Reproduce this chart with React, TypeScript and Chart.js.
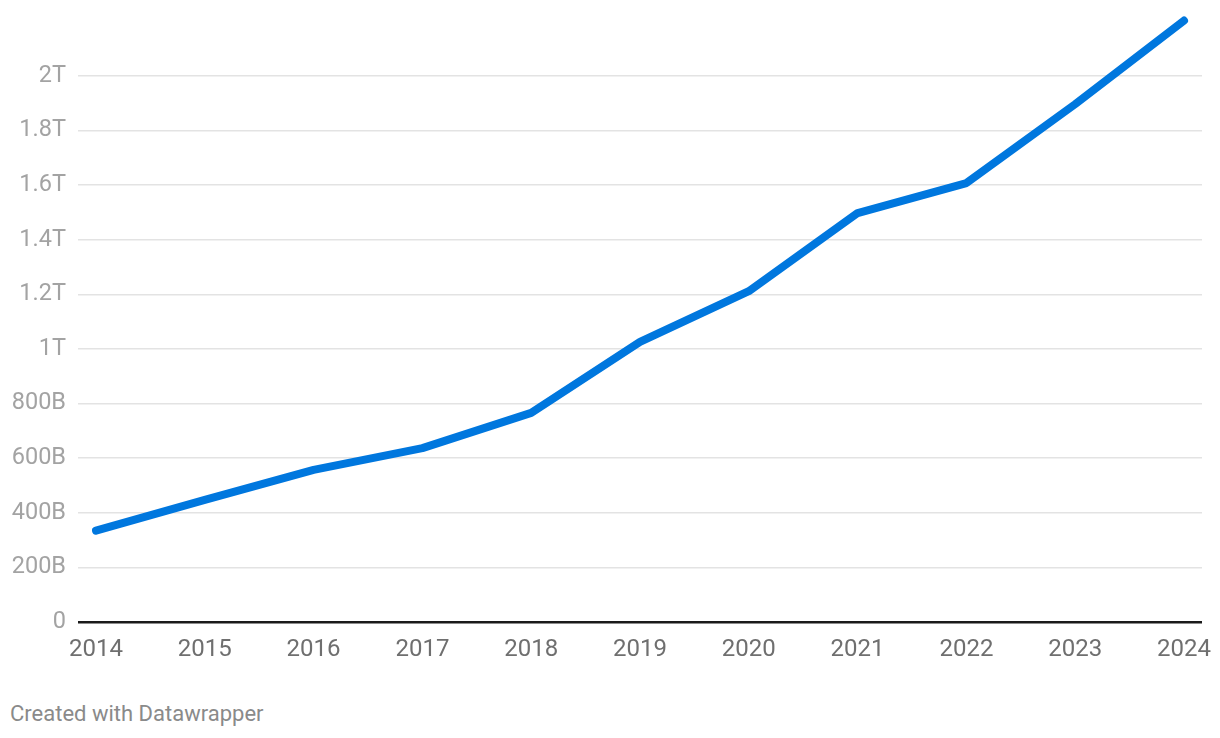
import React, { useEffect, useRef } from "react";
import { Chart, registerables } from "chart.js";

Chart.register(...registerables);

const years: number[] = [2014, 2015, 2016, 2017, 2018, 2019, 2020, 2021, 2022, 2023, 2024];
const valuesBillions: number[] = [335, 447, 557, 637, 766, 1026, 1212, 1498, 1608, 1897, 2203];
const yTickValuesBillions: number[] = [0, 200, 400, 600, 800, 1000, 1200, 1400, 1600, 1800, 2000];
const yTickLabels: string[] = ["0", "200B", "400B", "600B", "800B", "1T", "1.2T", "1.4T", "1.6T", "1.8T", "2T"];
const caption = "Created with Datawrapper";

export default function App() {
  const canvasRef = useRef<HTMLCanvasElement | null>(null);

  useEffect(() => {
    document.body.style.margin = "0";
    const ctx = canvasRef.current;
    if (!ctx) return;
    const chart = new Chart(ctx, {
      type: "line",
      data: {
        datasets: [
          {
            data: years.map((y, i) => ({ x: y, y: valuesBillions[i] })),
            borderColor: "#0077de",
            borderWidth: 8,
            borderCapStyle: "round",
            borderJoinStyle: "round",
            pointRadius: 0,
            tension: 0,
            fill: false,
            clip: false,
          },
        ],
      },
      options: {
        animation: false,
        responsive: false,
        maintainAspectRatio: false,
        layout: { padding: { top: 10.5, right: 18, bottom: 0, left: 0 } },
        plugins: { legend: { display: false }, tooltip: { enabled: false } },
        scales: {
          x: {
            type: "linear",
            min: 2014 - 18 / 108.8,
            max: 2024 + 18 / 108.8,
            afterBuildTicks: (scale: any) => {
              scale.ticks = years.map((v) => ({ value: v }));
            },
            afterFit: (scale: any) => {
              scale.height = 68;
              scale.paddingLeft = 0;
              scale.paddingRight = 0;
            },
            grid: { display: false, drawTicks: false },
            border: { display: false },
            ticks: {
              padding: 14,
              color: "#6f6f6f",
              font: { family: "Roboto", size: 24 },
              maxRotation: 0,
              autoSkip: false,
              callback: (v: any) => String(v),
            },
          },
          y: {
            type: "linear",
            min: 0,
            max: 2240,
            afterBuildTicks: (scale: any) => {
              scale.ticks = yTickValuesBillions.map((v) => ({ value: v }));
            },
            afterFit: (scale: any) => {
              scale.width = 78;
              scale.paddingTop = 0;
              scale.paddingBottom = 0;
            },
            grid: {
              drawTicks: false,
              color: (c: any) => (c.tick && c.tick.value === 0 ? "#1a1a1a" : "#e3e3e3"),
              lineWidth: (c: any) => (c.tick && c.tick.value === 0 ? 2.5 : 1.5),
            },
            border: { display: false },
            ticks: {
              padding: 12,
              color: "#a3a3a3",
              font: { family: "Roboto", size: 23.5 },
              callback: (v: any) => {
                const idx = yTickValuesBillions.indexOf(Number(v));
                return idx >= 0 ? yTickLabels[idx] : "";
              },
            },
          },
        },
      },
    });
    return () => chart.destroy();
  }, []);

  return (
    <div style={{ position: "relative", width: 1220, height: 738, background: "#fff" }}>
      <canvas ref={canvasRef} width={1220} height={690} style={{ position: "absolute", left: 0, top: 0 }} />
      <div
        style={{
          position: "absolute",
          left: 10,
          top: 701,
          fontFamily: "Roboto",
          fontSize: 22,
          color: "#8a8a8a",
          whiteSpace: "nowrap",
        }}
      >
        {caption}
      </div>
    </div>
  );
}
